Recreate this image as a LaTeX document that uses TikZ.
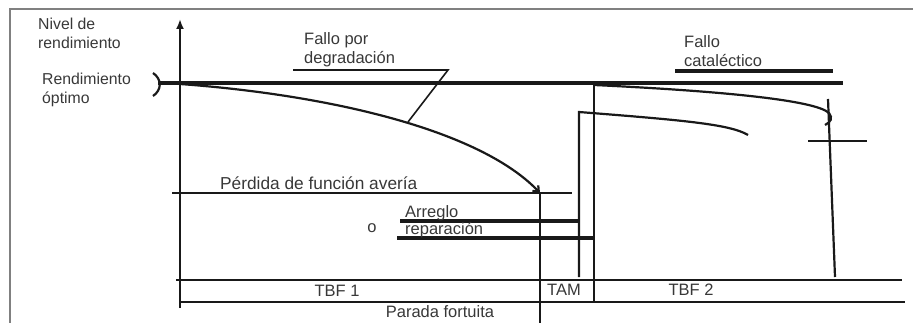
\documentclass[tikz,border=0pt]{standalone}
\usepackage{fontspec}
\setmainfont{Liberation Sans}
\usetikzlibrary{arrows.meta}
\definecolor{txtgray}{HTML}{383838}
\definecolor{framegray}{HTML}{808080}
\tikzset{
  lbl/.style={inner sep=0pt, anchor=base west, text=txtgray, font=\fontsize{16.5}{20}\selectfont},
  lblc/.style={lbl, anchor=base},
  lblsm/.style={lbl, font=\fontsize{15.8}{20}\selectfont},
  lblbig/.style={lbl, font=\fontsize{17.3}{20}\selectfont},
  thinln/.style={line width=1.6pt, black!90},
  midln/.style={line width=2.2pt, black!90},
  thickln/.style={line width=3.4pt, black!90},
  framel/.style={line width=2.5pt, framegray}
}
\begin{document}
\begin{tikzpicture}[x=1pt,y=-1pt]
\useasboundingbox (0,0) rectangle (913,323);
% frame
\coordinate (fl) at (10,323);
\coordinate (ftl) at (10,9);
\coordinate (ftr) at (913,9);
\draw[framel] (fl) -- (ftl) -- (ftr);
% coordinates
\coordinate (axb) at (180,308);
\coordinate (axt) at (180,19);
\coordinate (optL) at (158,83);
\coordinate (optR) at (843,83);
\coordinate (degS) at (180,84);
\coordinate (degE) at (540,193);
\coordinate (fdA) at (293,70);
\coordinate (fdB) at (448,70);
\coordinate (fdC) at (408,122);
\coordinate (pL) at (172,193);
\coordinate (pR) at (572,193);
\coordinate (v1b) at (540,323);
\coordinate (arL) at (400,221);
\coordinate (arR) at (580,221);
\coordinate (reL) at (397,238);
\coordinate (reR) at (595,238);
\coordinate (v2t) at (579,112);
\coordinate (v2b) at (579,277);
\coordinate (c2E) at (748,135);
\coordinate (v3t) at (594,84);
\coordinate (v3b) at (594,302);
\coordinate (catS) at (594,85);
\coordinate (catM) at (829,113);
\coordinate (catE) at (825,125);
\coordinate (v4t) at (828,99);
\coordinate (v4b) at (835,277);
\coordinate (crL) at (808,141);
\coordinate (crR) at (867,141);
\coordinate (b1L) at (176,280);
\coordinate (b1R) at (902,280);
\coordinate (b2L) at (180,302);
\coordinate (b2R) at (905,302);
\coordinate (ctL) at (675,71);
\coordinate (ctR) at (833,71);
\coordinate (parT) at (153,73);
\coordinate (parB) at (153,96);
% axis
\draw[line width=2.6pt, black!90, -{Latex[length=10pt,width=8pt]}] (axb) -- (axt);
% optimum line and bracket
\draw[thickln] (optL) -- (optR);
\draw[midln] (parT) .. controls (162,79) and (162,90) .. (parB);
% degradation curve
\draw[midln, -{Straight Barb[length=5pt,width=8pt]}] (degS) .. controls (330,95) and (480,130) .. (degE);
% leader for Fallo por degradacion
\draw[thinln] (fdA) -- (fdB) -- (fdC);
% perdida de funcion line
\draw[thinln] (pL) -- (pR);
\draw[midln] (degE) -- (v1b);
% arreglo / reparacion lines
\draw[thickln] (arL) -- (arR);
\draw[thickln] (reL) -- (reR);
% second restart
\draw[midln] (v2b) -- (v2t) .. controls (680,120) and (730,124) .. (c2E);
\draw[midln] (v3t) -- (v3b);
% catastrophic
\draw[midln] (catS) .. controls (720,91) and (815,100) .. (catM) .. controls (833,118) and (831,122) .. (catE);
\draw[midln] (v4t) -- (v4b);
\draw[midln] (crL) -- (crR);
\draw[thickln] (ctL) -- (ctR);
% bottom bars
\draw[midln] (b1L) -- (b1R);
\draw[midln] (b2L) -- (b2R);
% texts
\node[lblsm] (t1) at (38,30) {Nivel de};
\node[lblsm] (t2) at (38,49) {rendimiento};
\node[lblsm] (t3) at (42,85) {Rendimiento};
\node[lblsm] (t4) at (42,104) {óptimo};
\node[lbl] (t5) at (304,45) {Fallo por};
\node[lbl] (t6) at (304,64) {degradación};
\node[lbl] (t7) at (684,48) {Fallo};
\node[lbl] (t8) at (684,67) {cataléctico};
\node[lblbig] (t9) at (220,190) {Pérdida de función avería};
\node[lbl] (t10) at (405,218) {Arreglo};
\node[lbl] (t11) at (405,235) {reparación};
\node[lblc] (t12) at (372,233) {o};
\node[lblc] (t13) at (337,296) {TBF 1};
\node[lblc] (t14) at (564,295) {TAM};
\node[lblc] (t15) at (691,295) {TBF 2};
\node[lblc] (t16) at (440,317) {Parada fortuita};
\end{tikzpicture}
\end{document}
